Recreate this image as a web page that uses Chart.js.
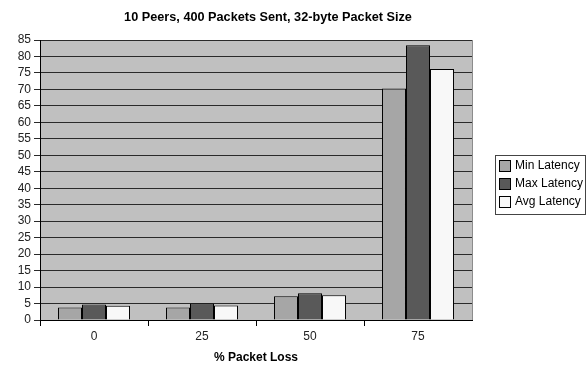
<!DOCTYPE html>
<html>
<head>
<meta charset="utf-8">
<script src="https://cdn.jsdelivr.net/npm/chart.js@4.4.1/dist/chart.umd.min.js"></script>
<style>
  html, body { margin: 0; padding: 0; background: #fff; }
  canvas { display: block; }
</style>
</head>
<body>
<canvas id="grafico" width="587" height="365"></canvas>
<script>
// dados
const categorias = ['0', '25', '50', '75'];
const minLatency = [3.8, 3.8, 7.2, 70.3];
const maxLatency = [4.7, 5.0, 8.1, 83.4];
const avgLatency = [4.3, 4.4, 7.5, 76.2];
const tituloTexto = '10 Peers, 400 Packets Sent, 32-byte Packet Size';
const eixoXTexto = '% Packet Loss';

const fonte = '"Liberation Sans", Arial, sans-serif';

// fundo cinza da área do gráfico + borda direita, título e legenda
const fundoPlugin = {
    id: 'fundo',
    beforeDraw(chart) {
        const { ctx, chartArea: a } = chart;
        ctx.save();
        ctx.fillStyle = '#c0c0c0';
        ctx.fillRect(a.left, a.top, a.right - a.left, a.bottom - a.top);
        ctx.restore();
    },
    afterDraw(chart) {
        const { ctx, chartArea: a } = chart;
        ctx.save();
        ctx.strokeStyle = '#8c8c8c';
        ctx.lineWidth = 1;
        ctx.beginPath();
        ctx.moveTo(a.right + 0.5, a.top);
        ctx.lineTo(a.right + 0.5, a.bottom);
        ctx.stroke();

        // título
        ctx.fillStyle = '#000';
        ctx.font = 'bold 12.7px ' + fonte;
        ctx.textAlign = 'center';
        ctx.textBaseline = 'middle';
        ctx.fillText(tituloTexto, 268, 17);

        // legenda com moldura
        const lx = 495, ly = 155, lw = 91, lh = 60;
        ctx.fillStyle = '#fff';
        ctx.fillRect(lx, ly, lw, lh);
        ctx.strokeStyle = '#444';
        ctx.strokeRect(lx + 0.5, ly + 0.5, lw - 1, lh - 1);
        ctx.font = '12px ' + fonte;
        ctx.textAlign = 'left';
        chart.data.datasets.forEach((ds, i) => {
            const cy = ly + 11 + i * 18;
            ctx.fillStyle = ds.backgroundColor;
            ctx.fillRect(lx + 4.5, cy - 5.5, 11, 11);
            ctx.strokeStyle = '#000';
            ctx.strokeRect(lx + 4.5, cy - 5.5, 11, 11);
            ctx.fillStyle = '#000';
            ctx.fillText(ds.label, lx + 20, cy);
        });
        ctx.restore();
    }
};

const ctxGrafico = document.getElementById('grafico').getContext('2d');
const grafico = new Chart(ctxGrafico, {
    type: 'bar',
    data: {
        labels: categorias,
        datasets: [
            { label: 'Min Latency', data: minLatency, backgroundColor: '#a6a6a6' },
            { label: 'Max Latency', data: maxLatency, backgroundColor: '#595959' },
            { label: 'Avg Latency', data: avgLatency, backgroundColor: '#f8f8f8' }
        ]
    },
    options: {
        responsive: false,
        devicePixelRatio: 1,
        animation: false,
        layout: { padding: { top: 40, right: 115, left: 0, bottom: 0 } },
        datasets: {
            bar: {
                borderColor: '#000',
                borderWidth: 1,
                borderSkipped: 'start',
                categoryPercentage: 0.667,
                barPercentage: 1
            }
        },
        plugins: {
            legend: { display: false },
            title: { display: false },
            tooltip: { enabled: false }
        },
        scales: {
            x: {
                grid: {
                    drawOnChartArea: false,
                    drawTicks: true,
                    tickLength: 6,
                    color: (c) => c.type === 'tick' ? '#000' : 'rgba(0,0,0,0)'
                },
                border: { color: '#000', width: 1 },
                ticks: { color: '#222', font: { family: fonte, size: 12 }, padding: 3 },
                title: {
                    display: true,
                    text: eixoXTexto,
                    color: '#000',
                    font: { family: fonte, size: 12, weight: 'bold' },
                    padding: { top: 3, bottom: 0 }
                },
                afterFit(scale) { scale.height = 45; }
            },
            y: {
                min: 0,
                max: 85,
                grid: { color: '#2a2a2a', lineWidth: 1, drawTicks: true, tickLength: 6 },
                border: { color: '#000', width: 1 },
                ticks: {
                    stepSize: 5,
                    autoSkip: false,
                    color: '#222',
                    font: { family: fonte, size: 12 },
                    padding: 3
                },
                afterFit(scale) { scale.width = 40; }
            }
        }
    },
    plugins: [fundoPlugin]
});
</script>
</body>
</html>
